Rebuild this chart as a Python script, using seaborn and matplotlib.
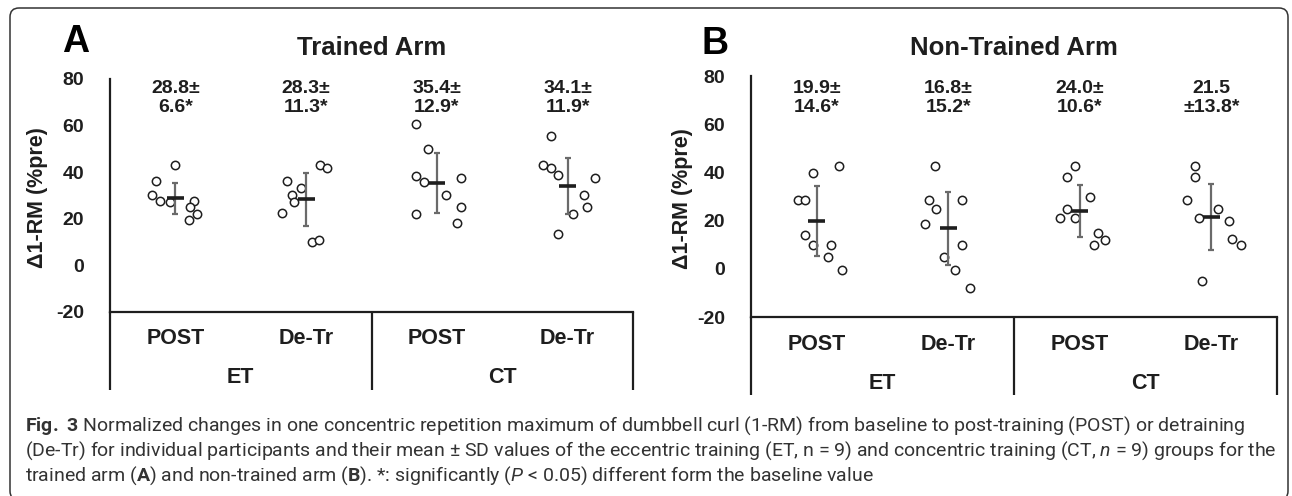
import numpy as np
import pandas as pd
import matplotlib
matplotlib.use("Agg")
import matplotlib.pyplot as plt
import matplotlib.transforms as mtransforms
from matplotlib.patches import FancyBboxPatch
import seaborn as sns

# --- data ---------------------------------------------------------------
conditions = ["POST", "De-Tr", "POST", "De-Tr"]
groups = ["ET", "CT"]

trained_vals = [
    [30.0, 27.6, 36.4, 27.1, 42.9, 27.7, 25.0, 22.1, 19.6],
    [22.3, 36.4, 30.1, 27.1, 33.1, 9.9, 10.9, 42.9, 41.6],
    [60.9, 50.0, 38.4, 35.6, 22.1, 30.0, 37.3, 25.0, 18.0],
    [55.4, 42.9, 41.7, 38.6, 13.6, 22.1, 30.0, 25.0, 37.3],
]
trained_jitter = [
    [-0.175, -0.117, -0.149, -0.038, 0.0, 0.14, 0.111, 0.168, 0.102],
    [-0.181, -0.149, -0.108, -0.095, -0.041, 0.044, 0.098, 0.105, 0.159],
    [-0.156, -0.07, -0.156, -0.098, -0.156, 0.073, 0.187, 0.184, 0.156],
    [-0.127, -0.187, -0.127, -0.073, -0.07, 0.038, 0.127, 0.152, 0.213],
]
trained_mean = [28.8, 28.3, 35.4, 34.1]
trained_sd = [6.6, 11.3, 12.9, 11.9]
trained_labels = ["28.8±\n6.6*", "28.3±\n11.3*", "35.4±\n12.9*", "34.1±\n11.9*"]

nontrained_vals = [
    [28.4, 28.4, 39.8, 14.0, 9.7, 9.7, 4.9, -0.3, 42.7],
    [42.7, 28.4, 24.7, 18.7, 4.9, -0.3, -7.8, 9.7, 28.4],
    [42.7, 37.9, 29.8, 25.0, 21.2, 21.0, 14.7, 12.0, 9.7],
    [42.7, 37.9, 28.4, 21.2, 25.0, 19.8, 12.2, 9.7, -5.1],
]
nontrained_jitter = [
    [-0.14, -0.086, -0.032, -0.086, -0.029, 0.108, 0.086, 0.194, 0.169],
    [-0.102, -0.149, -0.092, -0.178, -0.032, 0.051, 0.165, 0.108, 0.108],
    [-0.038, -0.099, 0.076, -0.099, -0.153, -0.038, 0.137, 0.191, 0.105],
    [-0.121, -0.121, -0.181, -0.095, 0.048, 0.134, 0.159, 0.223, -0.067],
]
nontrained_mean = [19.9, 16.8, 24.0, 21.5]
nontrained_sd = [14.6, 15.2, 10.6, 13.8]
nontrained_labels = ["19.9±\n14.6*", "16.8±\n15.2*", "24.0±\n10.6*", "21.5\n±13.8*"]

caption = [
    r"$\mathbf{Fig.\ 3}$ Normalized changes in one concentric repetition maximum of dumbbell curl (1-RM) from baseline to post-training (POST) or detraining",
    r"(De-Tr) for individual participants and their mean ± SD values of the eccentric training (ET, n = 9) and concentric training (CT, $\mathit{n}$ = 9) groups for the",
    r"trained arm ($\mathbf{A}$) and non-trained arm ($\mathbf{B}$). *: significantly ($\mathit{P}$ < 0.05) different form the baseline value",
]

# --- style ----------------------------------------------------------------
sns.set_theme(style="white")
plt.rcParams["font.family"] = ["Liberation Sans", "DejaVu Sans"]
plt.rcParams["axes.unicode_minus"] = False
plt.rcParams["mathtext.fontset"] = "custom"
plt.rcParams["mathtext.rm"] = "Roboto"
plt.rcParams["mathtext.bf"] = "Roboto:bold"
plt.rcParams["mathtext.it"] = "Roboto:italic"
CAP_FONT = ["Roboto", "DejaVu Sans"]

INK = "#1e1e1e"
W, H = 1292, 496


def fig_xy(x, y):
    return x / W, 1 - y / H


def make_df(vals, jitter):
    rows = []
    for i, (vs, js) in enumerate(zip(vals, jitter)):
        for v, j in zip(vs, js):
            rows.append({"cond": i, "x": i + j, "value": v})
    return pd.DataFrame(rows)


def draw_panel(ax, vals, jitter, means, sds, labels, title, lab_y, title_y, tick_y, grp_y, drop):
    df = make_df(vals, jitter)
    sns.scatterplot(data=df, x="x", y="value", ax=ax, s=36, color="white",
                    edgecolor=INK, linewidth=1.1, zorder=3, legend=False)
    xs = np.arange(len(means))
    ax.errorbar(xs, means, yerr=sds, fmt="none", ecolor="#6a6a6a", elinewidth=1.6,
                capsize=2.5, capthick=1.6, zorder=4)
    ax.hlines(means, xs - 0.065, xs + 0.065, color=INK, lw=2.6, zorder=5)

    ax.set_xlim(-0.5, 3.5)
    ax.set_ylim(-20, 80)
    ax.set_yticks(range(-20, 81, 20))
    ax.set_xticks([])
    ax.set_xlabel("")
    ax.set_ylabel("Δ1-RM (%pre)", fontsize=15.5, fontweight="bold", color=INK)
    ax.tick_params(axis="y", direction="out", length=4.5, width=1.6, color=INK,
                   labelsize=14, pad=14, labelcolor=INK)
    for t in ax.get_yticklabels():
        t.set_fontweight("bold")
    for side in ["top", "right"]:
        ax.spines[side].set_visible(False)
    for side in ["left", "bottom"]:
        ax.spines[side].set_color(INK)
        ax.spines[side].set_linewidth(1.6)

    for i, lab in enumerate(labels):
        ax.text(i, lab_y, lab, ha="center", va="center", fontsize=14,
                fontweight="bold", color=INK, linespacing=1.15)
    ax.text(0.5, title_y, title, transform=ax.transAxes, ha="center", va="center",
            fontsize=18.5, fontweight="bold", color=INK)

    trans = mtransforms.blended_transform_factory(ax.transData, ax.transAxes)
    for xv in [-0.5, 1.5, 3.5]:
        ax.plot([xv, xv], [0, drop], transform=trans, color=INK, lw=1.6,
                clip_on=False, solid_capstyle="butt")
    for i, c in enumerate(conditions):
        ax.text(i, tick_y, c, transform=trans, ha="center", va="center",
                fontsize=15.5, fontweight="bold", color=INK)
    for k, g in enumerate(groups):
        ax.text(0.5 + 2 * k, grp_y, g, transform=trans, ha="center", va="center",
                fontsize=15.5, fontweight="bold", color=INK)


fig = plt.figure(figsize=(W / 100, H / 100), dpi=100)

# panel A: axis x 110..633 px, y 79..312 px
axA = fig.add_axes([110 / W, 1 - 312 / H, 523 / W, 233 / H])
draw_panel(axA, trained_vals, trained_jitter, trained_mean, trained_sd, trained_labels,
           "Trained Arm", 72.0, 1.133, -0.112, -0.283, -0.335)
axA.yaxis.set_label_coords(-0.118, 0.49)

# panel B: axis x 751..1277 px, y 76..317 px
axB = fig.add_axes([751 / W, 1 - 317 / H, 526 / W, 241 / H])
draw_panel(axB, nontrained_vals, nontrained_jitter, nontrained_mean, nontrained_sd,
           nontrained_labels, "Non-Trained Arm", 70.7, 1.116, -0.116, -0.274, -0.324)
axB.yaxis.set_label_coords(-0.11, 0.49)

fig.text(*fig_xy(76, 42), "A", fontsize=27, fontweight="bold", color="black",
         ha="center", va="center")
fig.text(*fig_xy(715, 44), "B", fontsize=27, fontweight="bold", color="black",
         ha="center", va="center")

# caption, sized so the second line spans the box like in the original
renderer = fig.canvas.get_renderer()
probe = fig.text(0, 0, caption[1], fontsize=10, family=CAP_FONT)
cap_size = 10 * 1250 / probe.get_window_extent(renderer).width
probe.remove()
for line, base in zip(caption, [431, 456, 481]):
    fig.text(*fig_xy(25, base), line, fontsize=cap_size, color="#333333",
             family=CAP_FONT, va="baseline", ha="left")

# rounded frame round the whole figure
frame = FancyBboxPatch((10, -4), 1278, 496 - 8 + 4, boxstyle="round,pad=0,rounding_size=9",
                       transform=None, fill=False, edgecolor="#333333", linewidth=1.1)
fig.patches.append(frame)

fig.savefig("out.png", dpi=100)
